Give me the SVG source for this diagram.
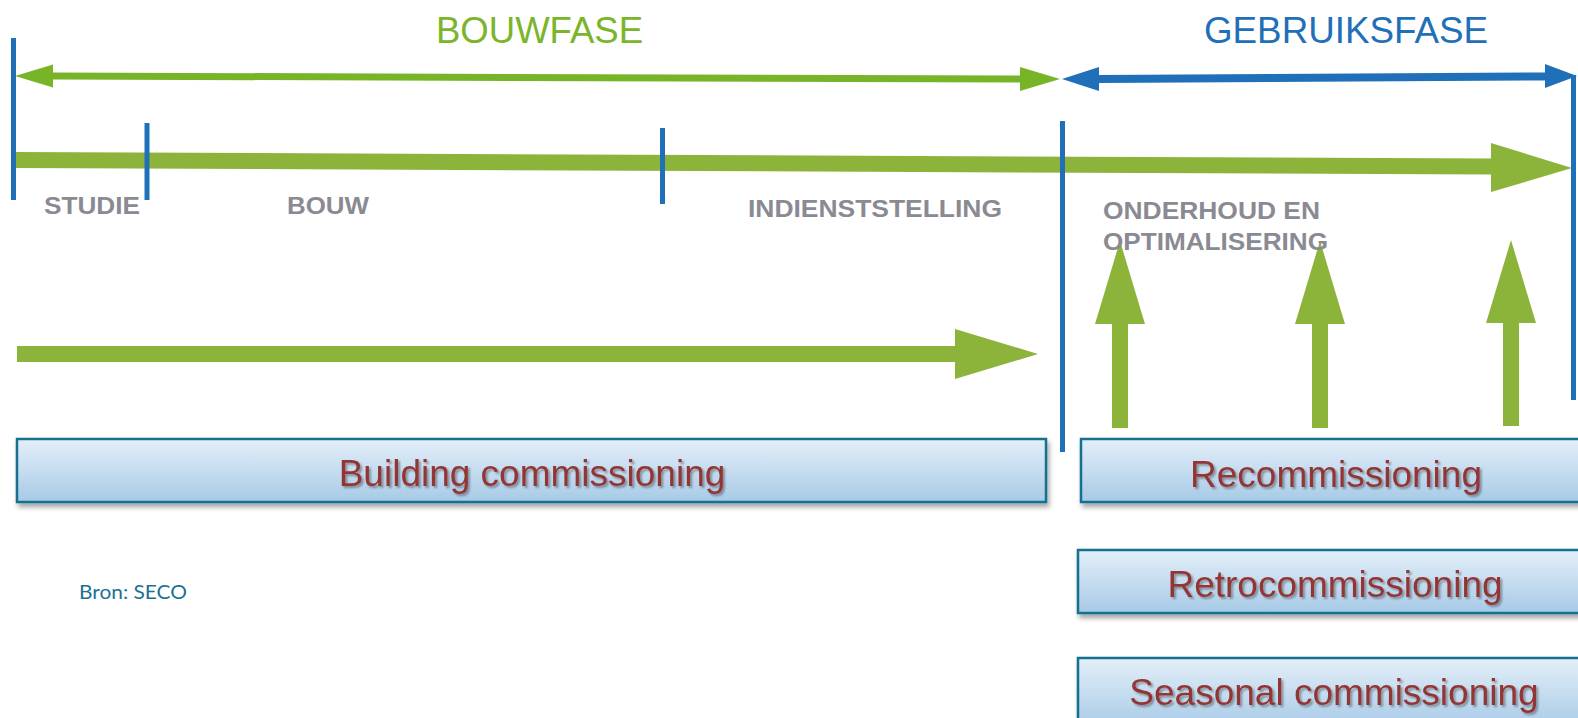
<svg xmlns="http://www.w3.org/2000/svg" width="1578" height="718" viewBox="0 0 1578 718">
<defs>
<linearGradient id="boxGrad" x1="0" y1="0" x2="0" y2="1">
<stop offset="0" stop-color="#e4eff9"/>
<stop offset="1" stop-color="#a7cae6"/>
</linearGradient>
<filter id="boxShadow" x="-5%" y="-20%" width="110%" height="160%">
<feDropShadow dx="2" dy="4" stdDeviation="2.5" flood-color="#000" flood-opacity="0.35"/>
</filter>
<filter id="txtShadow" x="-5%" y="-20%" width="110%" height="160%">
<feDropShadow dx="2" dy="2" stdDeviation="1.2" flood-color="#000" flood-opacity="0.35"/>
</filter>
</defs>
<style>
.phase{font-family:"Liberation Sans",Arial,sans-serif;font-size:36px}
.lbl{font-family:"Liberation Sans",Arial,sans-serif;font-size:24px;font-weight:bold;fill:#8a8a93}
.box{fill:url(#boxGrad);stroke:#16708f;stroke-width:2.5;filter:url(#boxShadow)}
.btxt{font-family:"Liberation Sans",Arial,sans-serif;font-size:37px;fill:#943634;text-anchor:middle;filter:url(#txtShadow)}
.blue{stroke:#1f70b8;stroke-width:5;fill:none}
.thick{fill:#8cb43a}
</style>
<rect width="1578" height="718" fill="#ffffff"/>

<g id="titles">
<text class="phase" x="436" y="43" fill="#7ab52a" textLength="207" lengthAdjust="spacingAndGlyphs">BOUWFASE</text>
<text class="phase" x="1204" y="43" fill="#1f70b8" textLength="284" lengthAdjust="spacingAndGlyphs">GEBRUIKSFASE</text>
</g>

<g id="connectors">
<polygon id="bouwfase-arrow" fill="#78b428" points="15,76 53,64.5 53,72.5 1020,75.5 1020,67 1060,79 1020,91 1020,82.5 53,79.5 53,87.5"/>
<polygon id="gebruiksfase-arrow" fill="#1f70b8" points="1062,79 1099,67 1099,75 1545,72.5 1545,64 1577,76 1545,88 1545,80.5 1099,83 1099,91"/>
<polygon id="timeline-arrow" class="thick" points="13,152 1491,158.5 1491,143 1572,168 1491,192 1491,174.5 13,168"/>
<line class="blue" x1="13.5" y1="38" x2="13.5" y2="200"/>
<line class="blue" x1="147" y1="123" x2="147" y2="200"/>
<line class="blue" x1="662.5" y1="128" x2="662.5" y2="204"/>
<line class="blue" x1="1062.5" y1="121" x2="1062.5" y2="452"/>
<line class="blue" x1="1573.5" y1="75" x2="1573.5" y2="400"/>
<polygon id="building-arrow" class="thick" points="17,346 955,346 955,329 1038,354 955,379 955,362 17,362"/>
<polygon id="up1" class="thick" points="1112,428 1112,324 1095,324 1120,241 1145,324 1128,324 1128,428"/>
<polygon id="up2" class="thick" points="1312,428 1312,324 1295,324 1320,241 1345,324 1328,324 1328,428"/>
<polygon id="up3" class="thick" points="1503,426 1503,323 1486,323 1511,240 1536,323 1519,323 1519,426"/>
</g>

<g id="labels">
<text class="lbl" x="44" y="214" textLength="96" lengthAdjust="spacingAndGlyphs">STUDIE</text>
<text class="lbl" x="287" y="214" textLength="82" lengthAdjust="spacingAndGlyphs">BOUW</text>
<text class="lbl" x="748" y="217" textLength="254" lengthAdjust="spacingAndGlyphs">INDIENSTSTELLING</text>
<text class="lbl" x="1103" y="219" textLength="217" lengthAdjust="spacingAndGlyphs">ONDERHOUD EN</text>
<text class="lbl" x="1103" y="250" textLength="225" lengthAdjust="spacingAndGlyphs">OPTIMALISERING</text>
</g>

<g id="building-commissioning">
<rect class="box" x="17" y="439" width="1029" height="63"/>
<text class="btxt" x="532" y="486">Building commissioning</text>
</g>
<g id="recommissioning">
<rect class="box" x="1081" y="439" width="520" height="63"/>
<text class="btxt" x="1336" y="487">Recommissioning</text>
</g>
<g id="retrocommissioning">
<rect class="box" x="1078" y="550" width="523" height="63"/>
<text class="btxt" x="1335" y="597">Retrocommissioning</text>
</g>
<g id="seasonal-commissioning">
<rect class="box" x="1078" y="658" width="523" height="70"/>
<text class="btxt" x="1334" y="705">Seasonal commissioning</text>
</g>

<g id="source">
<text x="79" y="599" font-family="Lato, 'Open Sans', sans-serif" font-size="19" fill="#1a7191" textLength="108" lengthAdjust="spacingAndGlyphs">Bron: SECO</text>
</g>
</svg>
